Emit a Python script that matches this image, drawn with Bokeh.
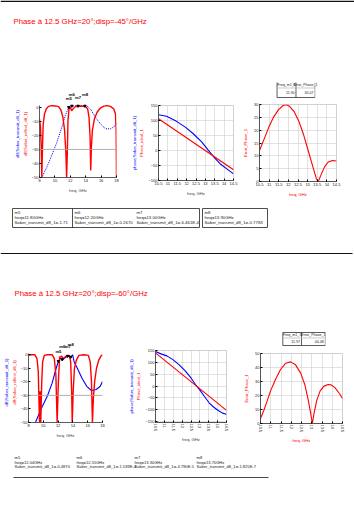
from bokeh.plotting import figure
from bokeh.layouts import row, column
from bokeh.models import Range1d, LinearAxis, FixedTicker, Label, Span, Spacer
from bokeh.embed import file_html
from bokeh.resources import INLINE
from bokeh.core.properties import value

FONT = "Liberation Sans"
RED = "#FF0000"
BLUE = "#0000FF"
GRID = "#CFCFCF"
INK = "#222222"

# ---------------- data : section 1 (phase 20 deg, disp -45 deg/GHz) ----------------
title_1 = "Phase à 12.5 GHz=20°;disp=-45°/GHz"
s1_db_freq = [8.0, 8.13, 8.22, 8.30, 8.39, 8.48, 8.65, 8.87, 9.17, 9.61,
              10.04, 10.48, 10.78, 11.04, 11.26, 11.43, 11.52, 11.61, 11.70, 11.83,
              12.0, 12.17, 12.35, 12.65, 13.30, 13.96, 14.26, 14.43, 14.57, 14.65,
              14.74, 14.87, 15.13, 15.48, 15.91, 16.35, 16.78, 17.22, 17.65, 17.87,
              17.96, 18.0]
s1_db_refl = [-8.3, -14, -28, -50, -28, -12, -4.7, -1.2, 0.7, 1.2,
              1.0, 0.5, -1.9, -7, -16.5, -33, -50, -33, -9.4, -1.2,
              0, -2.4, -1.2, 0.5, 1.0, 0.7, -1.2, -7, -21, -45,
              -28, -16.5, -8.3, -3.5, -0.5, 0.9, 1.2, 0.7, -1.2, -4.7,
              -16.5, -50]
s1_tr_freq = [8.30, 8.96, 9.61, 10.26, 10.91, 11.35, 11.78, 12.22, 13.30, 14.17,
              14.61, 15.26, 15.91, 16.57, 17.22, 17.65, 18.0]
s1_tr_db = [-50, -42.5, -34, -24.8, -14, -5.9, 0, 1, 1, 1,
            -1.2, -7, -11.8, -15.3, -15.3, -14, -11.3]
s1_mk_names = ["m5", "m6", "m7", "m8"]
s1_mk_freq = [11.8, 12.2, 13.0, 13.9]
s1_mk_db = [0, 1, 1, 1]

s1_ph_freq = [10.5, 10.93, 11.44, 11.95, 12.37, 12.80, 13.14, 13.48, 13.82, 14.16, 14.5]
s1_ph_meas = [119, 114, 98, 77, 55, 29, 2, -24, -46, -62, -78]
s1_ideal_freq = [10.5, 14.5]
s1_ideal_ph = [106, -64]

s1_err_freq = [10.5, 10.75, 10.99, 11.24, 11.49, 11.73, 11.90, 12.06, 12.31, 12.56,
               12.80, 13.05, 13.30, 13.46, 13.55, 13.68, 13.87, 14.07, 14.29, 14.5]
s1_err = [12.1, 16.7, 21.3, 25.2, 28.0, 29.6, 29.9, 29.3, 27.1, 23.2,
          18.0, 11.5, 5.0, 1.0, 0.0, 2.3, 5.6, 7.6, 8.2, 8.0]
s1_tab_head = ["Freq_m1_1", "Error_Phase_1"]
s1_tab_vals = ["11.90", "30.07"]
s1_mk_rows = [["m5", "freq=11.80GHz", "Saber_transmit_d8_1=-1.71"],
              ["m6", "freq=12.20GHz", "Saber_transmit_d8_1=-0.2670"],
              ["m7", "freq=13.00GHz", "Saber_transmit_d8_1=-6.461E-4"],
              ["m8", "freq=13.90GHz", "Saber_transmit_d8_1=-0.7783"]]

# ---------------- data : section 2 (phase 20 deg, disp -60 deg/GHz) ----------------
title_2 = "Phase à 12.5 GHz=20°;disp=-60°/GHz"
s2_db_freq = [8.0, 8.34, 8.85, 9.15, 9.32, 9.40, 9.49, 9.57, 9.66, 9.79,
              9.91, 10.13, 10.55, 11.19, 11.49, 11.70, 11.87, 12.04, 12.21, 12.47,
              12.68, 13.11, 13.53, 13.70, 13.83, 13.91, 14.04, 14.21, 14.47, 14.81,
              15.45, 16.09, 16.34, 16.51, 16.64, 16.77, 16.94, 17.19, 17.49, 17.79,
              18.0]
s2_db_refl = [-0.5, 0, 0, -2.9, -12.5, -31.7, -50, -27, -50, -19.7,
              -5.3, -0.5, 0, 0, -2.9, -14.9, -50, -19.7, -1.7, -1,
              -2.9, -1, -0.5, -5.3, -27, -50, -27, -10, -4, -0.5,
              0, -0.5, -5.3, -19.7, -50, -31.7, -19.7, -10, -4, -1,
              0]
s2_tr_freq = [8.94, 9.70, 10.55, 11.19, 11.74, 12.04, 12.34, 12.60, 12.89, 13.32,
              13.74, 13.96, 14.17, 14.60, 15.23, 15.87, 16.51, 17.15, 17.70, 18.0]
s2_tr_db = [-50, -40, -30.5, -21, -10, -4.8, -2.4, -4, -2.4, -1,
            -1.7, 0, -5.3, -10, -17.3, -23.3, -26.4, -25.7, -23.3, -19.7]
s2_mk_names = ["m5", "m6", "m7", "m8"]
s2_mk_freq = [12.04, 12.55, 13.3, 13.7]
s2_mk_db = [-4.8, -3.5, -1.0, -1.7]

s2_ph_freq = [10.5, 10.81, 11.14, 11.48, 11.82, 12.16, 12.5, 12.75, 13.01, 13.26,
              13.52, 13.77, 14.03, 14.28, 14.5]
s2_ph_meas = [148, 137.6, 129, 113, 92, 66.5, 35, 7, -18, -44,
              -71, -89, -104, -115, -120]
s2_ideal_freq = [10.5, 14.5]
s2_ideal_ph = [142, -103]

s2_err_freq = [10.5, 10.66, 10.83, 10.99, 11.23, 11.47, 11.72, 11.97, 12.21, 12.46,
               12.66, 12.82, 12.95, 13.03, 13.11, 13.24, 13.41, 13.60, 13.80, 13.93,
               14.13, 14.34, 14.5]
s2_err = [3.5, 9.3, 16.3, 23.3, 31.4, 38.4, 43.0, 44.0, 41.9, 36.0,
          27.9, 17.4, 7.0, 0.0, 7.0, 16.3, 23.3, 26.7, 27.9, 27.7,
          25.6, 21.6, 17.9]
s2_tab_head = ["Freq_m1_1", "Error_Phase_1"]
s2_tab_vals = ["11.97", "44.48"]
s2_mk_rows = [["m5", "freq=12.04GHz", "Saber_transmit_d8_1=-0.4870"],
              ["m6", "freq=12.55GHz", "Saber_transmit_d8_1=-1.539E-4"],
              ["m7", "freq=13.30GHz", "Saber_transmit_d8_1=-4.790E-5"],
              ["m8", "freq=13.70GHz", "Saber_transmit_d8_1=-1.825E-7"]]

db_xticks = [8, 10, 12, 14, 16, 18]
db_yticks = [-50, -40, -30, -20, -10, 0]
ph_xticks = [10.5, 11.0, 11.5, 12.0, 12.5, 13.0, 13.5, 14.0, 14.5]
s1_ph_yticks = [-100, -50, 0, 50, 100, 150]
s2_ph_yticks = [-150, -100, -50, 0, 50, 100, 150]
s1_err_yticks = [0, 5, 10, 15, 20, 25, 30]
s2_err_yticks = [0, 10, 20, 30, 40, 50]


# ---------------- helpers ----------------
def page_fig(w, h):
    p = figure(width=w, height=h, x_range=Range1d(0, w), y_range=Range1d(h, 0),
               output_backend="svg", toolbar_location=None, title=None,
               x_axis_location=None, y_axis_location=None,
               min_border_left=0, min_border_right=0, min_border_top=0, min_border_bottom=0)
    p.grid.visible = False
    p.outline_line_color = None
    return p


def txt(p, xs, ys, texts, size, color=INK, align="left", style="normal"):
    p.text(x=xs, y=ys, text=texts, text_font=value(FONT), text_font_size=value(size),
           text_color=color, text_baseline="middle", text_align=align,
           text_font_style=style)


def plot_fig(w, h, left, right, top, bottom, xr, yr, xticks, yticks,
             grid=True, outline="#BDBDBD", xrot=False):
    p = figure(width=w, height=h, x_range=Range1d(*xr), y_range=Range1d(*yr),
               output_backend="svg", toolbar_location=None, title=None,
               min_border_left=left, min_border_right=right,
               min_border_top=top, min_border_bottom=bottom)
    p.xaxis.ticker = FixedTicker(ticks=xticks, minor_ticks=[])
    p.yaxis.ticker = FixedTicker(ticks=yticks, minor_ticks=[])
    for ax in p.axis:
        ax.major_label_text_font = FONT
        ax.major_label_text_font_size = "4px"
        ax.major_label_text_color = INK
        ax.major_label_standoff = 1
        ax.axis_label_text_font = FONT
        ax.axis_label_text_font_size = "4.2px"
        ax.axis_label_text_font_style = "normal"
        ax.axis_label_standoff = 3
        ax.major_tick_in = 2
        ax.major_tick_out = 0
        ax.minor_tick_in = 0
        ax.minor_tick_out = 0
        ax.axis_line_width = 0.8
        ax.axis_line_color = "#333333"
    if xrot:
        p.xaxis.major_label_orientation = "vertical"
    p.xgrid.grid_line_color = GRID if grid else None
    p.ygrid.grid_line_color = GRID if grid else None
    p.grid.grid_line_width = 0.6
    p.outline_line_color = outline
    p.outline_line_width = 0.7
    return p


def two_ylabels(p, inner, inner_color, outer, outer_color):
    p.yaxis.axis_label = inner
    p.yaxis.axis_label_text_color = inner_color
    p.yaxis.axis_label_standoff = 1
    extra = LinearAxis(ticker=FixedTicker(ticks=[]), axis_label=outer,
                       axis_label_text_color=outer_color, axis_label_text_font=FONT,
                       axis_label_text_font_size="4.2px", axis_label_text_font_style="normal",
                       axis_label_standoff=0, axis_line_color=None,
                       major_tick_in=0, major_tick_out=0, minor_tick_in=0, minor_tick_out=0,
                       major_label_text_font_size="1px")
    p.add_layout(extra, "left")


def marker_labels(p, names, fx, fy, dy):
    p.scatter(x=fx, y=fy, marker="inverted_triangle", size=2.5, color="black")
    for i, (n, x, y) in enumerate(zip(names, fx, fy)):
        p.add_layout(Label(x=x, y=y, text=n, x_offset=-3, y_offset=dy + (3 if i % 2 else 0),
                           text_font=FONT, text_font_size="4.2px", text_font_style="bold",
                           text_color="black"))


def small_table(p, x0, xm, x1, y0, yh, y1, head, vals):
    p.segment(x0=[x0, xm, x1, x0, x0], y0=[y0, y0, y0, yh, y1],
              x1=[x0, xm, x1, x1, x1], y1=[y1, y1, y1, yh, y1],
              line_color=["#333333", "#333333", "#999999", "#BBBBBB", "#333333"], line_width=0.8)
    txt(p, [(x0 + xm) / 2, (xm + x1) / 2], [(y0 + yh) / 2] * 2, head, "3.6px", align="center")
    txt(p, [xm - 2, x1 - 2], [(yh + y1) / 2] * 2, vals, "3.6px", align="right")


# ---------------- header (y 0..75) ----------------
H1 = page_fig(354, 75)
H1.segment(x0=[0], y0=[0.7], x1=[354], y1=[0.7], line_color="#111111", line_width=1.4)
txt(H1, [13], [21], [title_1], "7.8px", color=RED)

# ---------------- section 1 plots (y 75..200) ----------------
# frame extends above the 0 dB line so the marker labels stay inside it
P1a = plot_fig(128, 125, 39, 12, 15, 23, (8, 18), (-50, 12), db_xticks, db_yticks,
               grid=False, outline=None)
P1a.yaxis.bounds = (-50, 1.5)
P1a.add_layout(Span(location=-30, dimension="width", line_color="#A8A8A8", line_width=0.9))
P1a.line(s1_tr_freq, s1_tr_db, line_color=BLUE, line_width=1.0, line_dash="1 1")
P1a.line(s1_db_freq, s1_db_refl, line_color=RED, line_width=1.4)
marker_labels(P1a, s1_mk_names, s1_mk_freq, s1_mk_db, 6)
P1a.xaxis.axis_label = "freq, GHz"
two_ylabels(P1a, "dB(Saber_reflect_d8_1)", RED, "dB(Saber_transmit_d8_1)", BLUE)

P2a = plot_fig(112, 124, 27, 7, 29, 20, (10.5, 14.5), (-100, 150), ph_xticks, s1_ph_yticks)
P2a.line(s1_ph_freq, s1_ph_meas, line_color=BLUE, line_width=1.1)
P2a.line(s1_ideal_freq, s1_ideal_ph, line_color=RED, line_width=1.1)
P2a.xaxis.axis_label = "freq, GHz"
two_ylabels(P2a, "Phase_ideal_1", RED, "phase(Saber_transmit_d8_1)", BLUE)

T1 = page_fig(114, 26)
small_table(T1, 26, 54, 82, 7, 12.5, 22, s1_tab_head, s1_tab_vals)

P3a = plot_fig(114, 99, 15, 18, 3, 19, (10.5, 14.5), (0, 30), ph_xticks, s1_err_yticks)
P3a.line(s1_err_freq, s1_err, line_color=RED, line_width=1.1)
P3a.xaxis.axis_label = "freq, GHz"
P3a.xaxis.axis_label_text_color = RED
P3a.yaxis.axis_label = "Error_Phase_1"
P3a.yaxis.axis_label_text_color = RED

# ---------------- middle (y 200..320) ----------------
M = page_fig(354, 120)
M.segment(x0=[12, 12, 12, 199, 72, 202, 202, 202, 267],
          y0=[8, 27, 8, 8, 8, 8, 27, 8, 8],
          x1=[199, 199, 12, 199, 72, 267, 267, 202, 267],
          y1=[8, 27, 27, 27, 27, 8, 27, 27, 27],
          line_color="#222222", line_width=0.8)
cols_1 = [14, 74, 136, 204]
for cx, rows_ in zip(cols_1, s1_mk_rows):
    txt(M, [cx] * 3, [12, 16.8, 21.6], rows_, "4.3px")
M.segment(x0=[0], y0=[53], x1=[352], y1=[53], line_color="#111111", line_width=1.2)
txt(M, [14], [93], [title_2], "7.8px", color=RED)

# ---------------- section 2 plots (y 320..446) ----------------
P1b = plot_fig(125, 126, 23, 23, 22, 24, (8, 18), (-50, 9), db_xticks, db_yticks,
               grid=False, outline=None)
P1b.yaxis.bounds = (-50, 0.8)
P1b.add_layout(Span(location=-30, dimension="width", line_color="#A8A8A8", line_width=0.9))
P1b.line(s2_tr_freq, s2_tr_db, line_color=BLUE, line_width=1.1)
P1b.line(s2_db_freq, s2_db_refl, line_color=RED, line_width=1.4)
marker_labels(P1b, s2_mk_names, s2_mk_freq, s2_mk_db, 7)
P1b.xaxis.axis_label = "freq, GHz"
two_ylabels(P1b, "dB(Saber_reflect_d8_1)", RED, "dB(Saber_transmit_d8_1)", BLUE)

P2b = plot_fig(115, 125, 22, 14, 29, 24, (10.5, 14.5), (-155, 152), ph_xticks, s2_ph_yticks,
               xrot=True)
P2b.line(s2_ph_freq, s2_ph_meas, line_color=BLUE, line_width=1.1)
P2b.line(s2_ideal_freq, s2_ideal_ph, line_color=RED, line_width=1.1)
P2b.xaxis.axis_label = "freq, GHz"
two_ylabels(P2b, "Phase_ideal_1", RED, "phase(Saber_transmit_d8_1)", BLUE)

T2 = page_fig(114, 29)
small_table(T2, 31, 57, 90, 12, 17.5, 25, s2_tab_head, s2_tab_vals)
T2.segment(x0=[31], y0=[12], x1=[90], y1=[12], line_color="#333333", line_width=0.8)

P3b = plot_fig(114, 97, 20, 12, 4, 21, (10.5, 14.5), (0, 50), ph_xticks, s2_err_yticks,
               xrot=True)
P3b.line(s2_err_freq, s2_err, line_color=RED, line_width=1.1)
P3b.xaxis.axis_label = "freq, GHz"
P3b.xaxis.axis_label_text_color = RED
P3b.yaxis.axis_label = "Error_Phase_1"
P3b.yaxis.axis_label_text_color = RED

# ---------------- bottom (y 446..512) ----------------
B = page_fig(354, 66)
cols_2 = [14, 76, 134, 196]
for cx, rows_ in zip(cols_2, s2_mk_rows):
    txt(B, [cx] * 3, [11, 15.5, 20], rows_, "4.1px")
B.segment(x0=[13], y0=[31], x1=[268], y1=[31], line_color="#333333", line_width=0.9)

# each plot sits in its own column so frames are not aligned across the row
layout = column(
    H1,
    row(column(P1a, spacing=0),
        column(Spacer(width=112, height=1), P2a, spacing=0),
        column(T1, P3a, spacing=0), spacing=0),
    M,
    row(column(P1b, spacing=0),
        column(Spacer(width=115, height=1), P2b, spacing=0),
        column(T2, P3b, spacing=0), spacing=0),
    B,
    spacing=0,
)

open("out.html", "w").write(file_html(layout, INLINE))
